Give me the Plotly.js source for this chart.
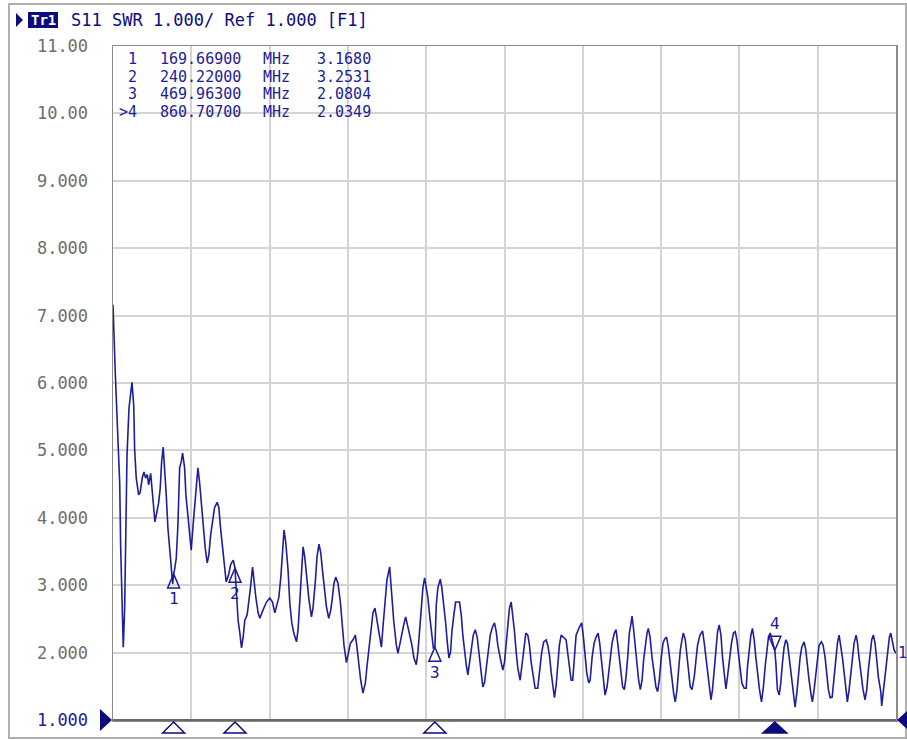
<!DOCTYPE html>
<html><head><meta charset="utf-8">
<script src="https://cdn.plot.ly/plotly-3.0.1.min.js"></script>
<style>html,body{margin:0;padding:0;background:#fff;overflow:hidden}#chart{width:907px;height:740px}</style>
</head><body><div id="chart"></div>
<script>
// ---- data ----
const freqMHz = [
100.0,101.1,102.6,104.9,107.7,108.8,110.3,111.8,113.4,114.6,
116.1,118.4,120.3,121.8,123.8,124.9,126.7,129.5,131.3,133.6,
135.6,137.5,139.4,141.0,143.3,144.8,146.3,148.2,150.5,152.5,
154.3,155.9,157.7,159.4,161.2,163.1,165.4,166.9,168.6,169.7,170.8,
172.7,174.6,176.6,178.4,180.0,182.3,183.8,186.1,188.0,189.9,
191.8,193.8,195.6,197.6,199.5,201.4,203.3,206.0,208.3,210.2,
212.2,214.5,216.7,219.7,221.7,223.6,225.5,228.2,230.1,232.8,
235.1,237.0,238.3,240.2,241.6,242.6,243.8,245.8,247.7,249.6,
251.5,254.2,256.1,258.1,260.4,262.2,264.2,266.8,268.8,271.4,
273.7,276.4,280.2,283.3,286.0,287.9,290.6,292.9,294.8,296.6,
298.6,301.2,303.2,305.5,307.8,310.9,312.7,314.7,316.6,318.5,
320.4,323.0,325.3,328.1,329.9,332.7,334.5,336.8,338.8,340.7,
343.4,345.3,348.0,350.3,352.2,354.0,356.0,358.6,361.4,363.7,
365.5,368.3,370.9,372.9,375.9,378.6,380.4,382.4,384.7,387.3,
390.1,391.9,393.9,396.2,398.8,401.1,403.4,405.7,408.5,410.3,
412.6,414.9,418.0,420.3,422.6,425.7,427.5,429.5,431.4,434.1,
436.4,438.7,440.9,443.6,445.9,448.6,450.5,452.4,454.4,456.2,
458.2,460.1,462.0,463.9,465.9,468.2,470.0,471.6,473.4,476.2,
478.0,480.3,482.3,484.2,486.1,488.0,489.5,491.8,493.8,498.3,
500.3,502.1,504.1,506.0,507.9,509.8,511.8,514.1,516.4,518.7,
520.5,522.5,525.1,527.1,529.0,530.8,533.6,536.2,538.5,540.5,
542.3,545.1,548.1,550.0,552.0,553.8,555.7,557.7,559.5,561.5,
563.4,565.3,568.0,569.9,572.2,574.5,576.8,578.7,580.6,582.9,
585.2,588.2,590.5,592.8,595.1,597.9,599.7,601.7,603.6,605.9,
607.4,609.4,611.2,613.1,615.1,617.7,620.8,622.7,624.6,626.6,
628.4,630.4,632.3,636.1,638.7,640.7,642.6,644.5,646.8,648.4,
650.7,653.0,655.3,657.6,659.4,661.4,663.3,665.6,667.9,669.7,
671.7,673.6,676.3,678.2,680.1,682.0,684.0,685.8,687.8,689.7,
691.6,693.5,695.5,696.6,698.1,700.4,702.3,704.2,706.1,708.1,
709.9,711.9,713.8,715.3,717.3,719.6,721.8,724.1,726.0,727.9,
730.2,732.2,734.0,736.3,738.3,740.2,742.1,744.4,746.3,748.3,
750.1,752.1,754.0,755.5,757.8,759.7,761.6,763.5,765.5,768.1,
770.1,771.9,774.7,777.7,779.6,781.6,783.4,785.3,787.3,789.1,
791.1,793.0,794.9,796.8,798.8,800.6,802.6,804.5,806.3,808.3,
810.9,813.2,815.2,817.1,818.9,820.9,822.8,825.5,827.8,829.3,
831.2,833.2,835.0,837.0,838.9,840.8,843.1,845.4,847.6,849.6,
851.5,853.4,855.4,858.0,860.7,861.9,863.7,865.7,867.6,869.5,
871.4,873.4,875.2,877.2,879.1,881.7,884.0,886.0,887.8,889.8,
891.7,894.4,896.3,898.2,900.1,902.1,903.9,905.9,907.8,909.7,
911.6,914.3,916.2,918.5,920.5,922.3,924.3,926.6,928.9,930.8,
932.7,934.6,936.5,938.4,940.4,942.6,944.1,946.1,948.0,949.9,
951.8,954.1,955.6,957.5,959.5,962.1,964.4,966.4,968.2,970.2,
972.1,974.0,975.9,977.9,979.7,982.5,983.6,986.3,988.6,990.5,
992.4,994.0,995.8,997.8,1000.0
];
const swr = [
7.16,6.83,6.16,5.41,4.52,3.57,2.59,2.08,2.66,3.79,
4.93,5.63,5.87,6.01,5.67,5.01,4.59,4.34,4.38,4.59,
4.68,4.59,4.64,4.49,4.66,4.44,4.15,3.94,4.09,4.23,
4.44,4.83,5.05,4.75,4.34,3.85,3.49,3.30,3.02,3.17,3.23,
3.40,3.89,4.74,4.83,4.96,4.74,4.34,4.04,3.85,3.52,
3.85,4.15,4.53,4.74,4.53,4.23,3.85,3.55,3.33,3.45,
3.74,4.00,4.15,4.23,4.15,3.85,3.63,3.30,3.05,3.15,
3.30,3.35,3.37,3.25,3.00,2.78,2.48,2.29,2.07,2.23,
2.48,2.56,2.74,2.97,3.27,3.03,2.82,2.59,2.51,2.60,
2.68,2.75,2.81,2.75,2.59,2.68,2.82,3.12,3.48,3.82,
3.63,3.23,2.74,2.44,2.29,2.16,2.34,2.74,3.23,3.57,
3.42,3.08,2.78,2.53,2.66,3.08,3.42,3.61,3.48,3.23,
2.93,2.68,2.51,2.63,2.82,3.03,3.12,3.03,2.74,2.38,
2.11,1.85,1.99,2.14,2.19,2.26,2.08,1.85,1.59,1.40,
1.55,1.79,2.04,2.29,2.59,2.66,2.48,2.29,2.08,2.38,
2.78,3.08,3.27,2.82,2.48,2.11,1.99,2.11,2.26,2.41,
2.53,2.41,2.26,2.11,1.92,1.82,2.01,2.36,2.66,2.96,
3.11,2.97,2.81,2.56,2.31,2.07,2.08,2.71,2.96,3.09,
2.96,2.71,2.45,2.16,1.92,2.01,2.31,2.56,2.75,2.75,
2.56,2.26,2.01,1.82,1.67,1.86,2.11,2.26,2.34,2.22,
2.01,1.77,1.49,1.56,1.77,2.01,2.26,2.38,2.44,2.31,
2.11,1.92,1.74,1.86,2.16,2.45,2.66,2.75,2.56,2.31,
2.01,1.77,1.59,1.82,2.11,2.29,2.26,2.11,1.86,1.67,
1.47,1.47,1.77,2.01,2.16,2.19,2.11,1.96,1.71,1.47,
1.33,1.52,1.86,2.11,2.26,2.23,2.19,1.99,1.74,1.59,
1.59,1.93,2.26,2.38,2.44,2.23,1.93,1.70,1.55,1.59,
1.93,2.14,2.23,2.29,2.14,1.89,1.59,1.37,1.49,1.70,
1.93,2.14,2.29,2.34,2.14,1.89,1.70,1.49,1.45,1.64,
1.93,2.29,2.44,2.54,2.38,2.08,1.85,1.59,1.45,1.59,
1.89,2.14,2.29,2.36,2.23,1.93,1.70,1.49,1.42,1.59,
1.93,2.14,2.20,2.23,2.08,1.85,1.59,1.40,1.27,1.45,
1.74,2.04,2.19,2.29,2.19,1.93,1.70,1.49,1.45,1.64,
1.89,2.11,2.26,2.32,2.14,1.93,1.70,1.45,1.30,1.45,
1.79,2.08,2.31,2.41,2.26,1.93,1.64,1.46,1.64,1.89,
2.14,2.29,2.31,2.19,1.99,1.74,1.55,1.47,1.47,1.79,
2.04,2.26,2.36,2.19,1.93,1.70,1.45,1.27,1.49,1.79,
2.04,2.23,2.29,2.14,2.03,1.85,1.45,1.37,1.55,1.85,
2.08,2.19,2.14,1.93,1.70,1.45,1.19,1.40,1.70,1.93,
2.08,2.16,2.04,1.79,1.59,1.40,1.27,1.45,1.70,1.93,
2.11,2.16,2.11,1.93,1.70,1.45,1.33,1.34,1.64,1.93,
2.14,2.26,2.11,1.93,1.70,1.45,1.27,1.45,1.70,1.93,
2.14,2.26,2.16,1.93,1.70,1.45,1.30,1.45,1.74,1.99,
2.19,2.26,2.14,1.89,1.64,1.42,1.21,1.52,1.82,2.07,
2.23,2.29,2.19,2.04,1.99
];
const markerNum = ['1','2','3','4'];
const markerFreq = [169.669, 240.22, 469.963, 860.707];
const markerSWR = [3.1680, 3.2531, 2.0804, 2.0349];
const activeMarker = 3;
const freqUnit = 'MHz';
const yTickVals = [1,2,3,4,5,6,7,8,9,10,11];
const yTickText = ['1.000','2.000','3.000','4.000','5.000','6.000','7.000','8.000','9.000','10.00','11.00'];
const xRange = [100, 1000];
const xDiv = 90;
const headerText = 'S11 SWR 1.000/ Ref 1.000 [F1]';
const traceName = 'Tr1';
const traceEndLabel = '1';

// ---- styling / layout helpers ----
const BLUE = '#1c1c96';
const NAVY = '#0c0c7e';
const GRAY = '#6e6e6e';
const MONO = 'DejaVu Sans Mono, monospace';
const W = 907, H = 740, L = 113, R = 896, T = 46, B = 720;
function px(x){ return (x - L) / (R - L); }
function py(y){ return (B - y) / (B - T); }

const tickText = yTickText.map((t, i) => i === 0 ? '<span style="color:' + BLUE + '">' + t + '</span>' : t);

const shapes = [];
const annotations = [];

// outer window frame
shapes.push({type:'rect', xref:'paper', yref:'paper', x0:px(9), x1:px(906), y0:py(738), y1:py(4),
  line:{color:'#b0b0b0', width:2}, layer:'below'});
// header: active trace arrow + Tr1 box
shapes.push({type:'path', xref:'paper', yref:'paper',
  path:`M ${px(16)} ${py(13)} L ${px(23)} ${py(20)} L ${px(16)} ${py(27)} Z`, fillcolor:NAVY, line:{width:0}});
shapes.push({type:'rect', xref:'paper', yref:'paper', x0:px(28), x1:px(58), y0:py(28), y1:py(12),
  fillcolor:NAVY, line:{width:0}});
annotations.push({xref:'paper', yref:'paper', x:px(43), y:py(20), text:'<b>' + traceName + '</b>', showarrow:false,
  xanchor:'center', yanchor:'middle', font:{family:MONO, size:14, color:'#ffffff'}});
annotations.push({xref:'paper', yref:'paper', x:px(69), y:py(20), text:headerText, showarrow:false,
  xanchor:'left', yanchor:'middle', font:{family:MONO, size:17, color:NAVY}});

// reference level arrows
shapes.push({type:'path', xref:'paper', yref:'paper',
  path:`M ${px(100)} ${py(709)} L ${px(112)} ${py(720)} L ${px(100)} ${py(731)} Z`, fillcolor:NAVY, line:{width:0}});
shapes.push({type:'path', xref:'paper', yref:'paper',
  path:`M ${px(908)} ${py(710)} L ${px(897)} ${py(720)} L ${px(908)} ${py(730)} Z`, fillcolor:NAVY, line:{width:0}});
// darker bottom axis line
shapes.push({type:'line', xref:'paper', yref:'paper', x0:0, x1:1, y0:0, y1:0, line:{color:'#6a6a6a', width:2}});

// markers on the trace and on the stimulus bar
markerFreq.forEach((f, i) => {
  const act = i === activeMarker;
  shapes.push({type:'path', xref:'x', yref:'y', xsizemode:'pixel', ysizemode:'pixel',
    xanchor:f, yanchor:markerSWR[i],
    path: act ? 'M 0 0 L 6 14 L -6 14 Z' : 'M 0 0 L 6 -14 L -6 -14 Z',
    fillcolor:'rgba(255,255,255,0)', line:{color:BLUE, width:1.5}});
  annotations.push({xref:'x', yref:'y', x:f, y:markerSWR[i], text:markerNum[i], showarrow:false,
    xanchor:'center', yanchor:'middle', yshift: act ? 27 : -25, font:{family:MONO, size:16, color:BLUE}});
  shapes.push({type:'path', xref:'x', yref:'paper', xsizemode:'pixel', ysizemode:'pixel',
    xanchor:f, yanchor:0,
    path: act ? 'M 0 -2 L 12 -13 L -12 -13 Z' : 'M 0 -2 L 11 -13 L -11 -13 Z',
    fillcolor: act ? NAVY : 'rgba(255,255,255,0)', line:{color:NAVY, width:1.5}});
});

// marker readout table (one text per column so the columns line up like the instrument)
const rowY = [58.5, 76.5, 94, 111.5];
const TABLE_FONT = {family:MONO, size:15, color:BLUE};
markerFreq.forEach((f, i) => {
  const y = py(rowY[i]);
  const cells = [
    {x:138, anchor:'right', text:(i === activeMarker ? '>' : '') + markerNum[i]},
    {x:159, anchor:'left', text:f.toFixed(5)},
    {x:262, anchor:'left', text:freqUnit},
    {x:316, anchor:'left', text:markerSWR[i].toFixed(4)}
  ];
  cells.forEach(c => annotations.push({xref:'paper', yref:'paper', x:px(c.x), y:y, text:c.text, showarrow:false,
    xanchor:c.anchor, yanchor:'middle', borderpad:0, font:TABLE_FONT}));
});

// trace number at right edge
annotations.push({xref:'paper', yref:'y', x:1, y:swr[swr.length-1], text:traceEndLabel, showarrow:false,
  xanchor:'left', yanchor:'middle', xshift:0, font:{family:MONO, size:15, color:BLUE}});

const trace = {
  x: freqMHz, y: swr, type:'scatter', mode:'lines',
  line:{color:'#1e1e9c', width:1.6}, hoverinfo:'skip', showlegend:false, cliponaxis:true
};

const layout = {
  width: W, height: H,
  margin: {l:L, r:W-R, t:T, b:H-B, pad:0},
  paper_bgcolor:'#ffffff', plot_bgcolor:'#ffffff',
  showlegend:false,
  xaxis: {range:xRange, tick0:xRange[0], dtick:xDiv, showticklabels:false, ticks:'',
    showgrid:true, gridcolor:'#d4d4d4', gridwidth:2, zeroline:false,
    showline:true, mirror:true, linecolor:'#8a8a8a', linewidth:1.5, fixedrange:true},
  yaxis: {range:[yTickVals[0], yTickVals[yTickVals.length-1]], tickmode:'array', tickvals:yTickVals, ticktext:tickText,
    ticks:'', ticklabelstandoff:20, tickfont:{family:MONO, size:17, color:GRAY},
    showgrid:true, gridcolor:'#d4d4d4', gridwidth:2, zeroline:false,
    showline:true, mirror:true, linecolor:'#8a8a8a', linewidth:1.5, fixedrange:true},
  shapes: shapes,
  annotations: annotations
};

Plotly.newPlot('chart', [trace], layout, {staticPlot:true, displayModeBar:false});
</script>
</body></html>
